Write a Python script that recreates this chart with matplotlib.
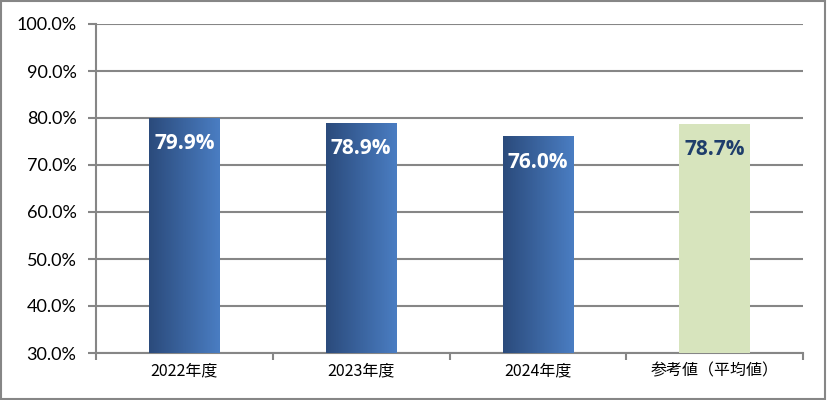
import matplotlib.pyplot as plt
import numpy as np
from matplotlib.colors import LinearSegmentedColormap
from matplotlib.patches import Rectangle

# data
categories = ["2022年度", "2023年度", "2024年度", "参考値（平均値）"]
values = [79.9, 78.9, 76.0, 78.7]
labels = ["79.9%", "78.9%", "76.0%", "78.7%"]
yticks = [30, 40, 50, 60, 70, 80, 90, 100]

plt.rcParams['font.family'] = ['Lato', 'DejaVu Sans']

fig = plt.figure(figsize=(8.27, 4.0), dpi=100)
ax = fig.add_axes([96/827, 1-353/400, 707/827, 329/400])

grad = LinearSegmentedColormap.from_list("g", ["#2b4b7c", "#4a7dc2"])
x = np.arange(len(categories))
bars = ax.bar(x, [v - 30 for v in values], bottom=30, width=0.4,
              color=["none", "none", "none", "#d7e4bd"], zorder=3)
gimg = np.linspace(0, 1, 100).reshape(1, -1)
for i, b in enumerate(bars[:3]):
    x0, w = b.get_x(), b.get_width()
    ax.imshow(gimg, cmap=grad, aspect="auto", zorder=3,
              extent=[x0, x0 + w, 30, 30 + b.get_height()])

for i, (v, lab) in enumerate(zip(values, labels)):
    c = "white" if i < 3 else "#1f3e6b"
    ax.text(x[i], v - 5.4, lab, ha="center", va="center", fontsize=15,
            fontweight="bold", color=c, zorder=4, family=["Open Sans", "DejaVu Sans"])

ax.set_xlim(-0.5, len(categories) - 0.5)
ax.set_ylim(30, 100)
ax.set_yticks(yticks)
ax.set_yticklabels([f"{t:.1f}%" for t in yticks], fontsize=13)
ax.set_xticks(np.arange(len(categories) + 1) - 0.5, minor=False)
ax.set_xticklabels([])
ax.set_xticks(x, minor=True)
ax.set_xticklabels(categories, minor=True, fontsize=11.5,
                   family=["Noto Sans CJK JP", "DejaVu Sans"])
ax.tick_params(axis="x", which="minor", length=0, pad=7)
ax.tick_params(axis="x", which="major", length=5, color="#868686", width=1.5)
ax.tick_params(axis="y", length=6, color="#868686", width=1.5, pad=8)
ax.grid(axis="y", color="#868686", linewidth=1.5, zorder=0)
ax.set_axisbelow(True)
for s in ["top", "right"]:
    ax.spines[s].set_visible(False)
for s in ["left", "bottom"]:
    ax.spines[s].set_color("#868686")
    ax.spines[s].set_linewidth(1.5)

fig.patches.append(Rectangle((0.001, 0.002), 0.997, 0.995, transform=fig.transFigure,
                             fill=False, edgecolor="#868686", linewidth=1.5))

fig.savefig("out.png", dpi=100)
